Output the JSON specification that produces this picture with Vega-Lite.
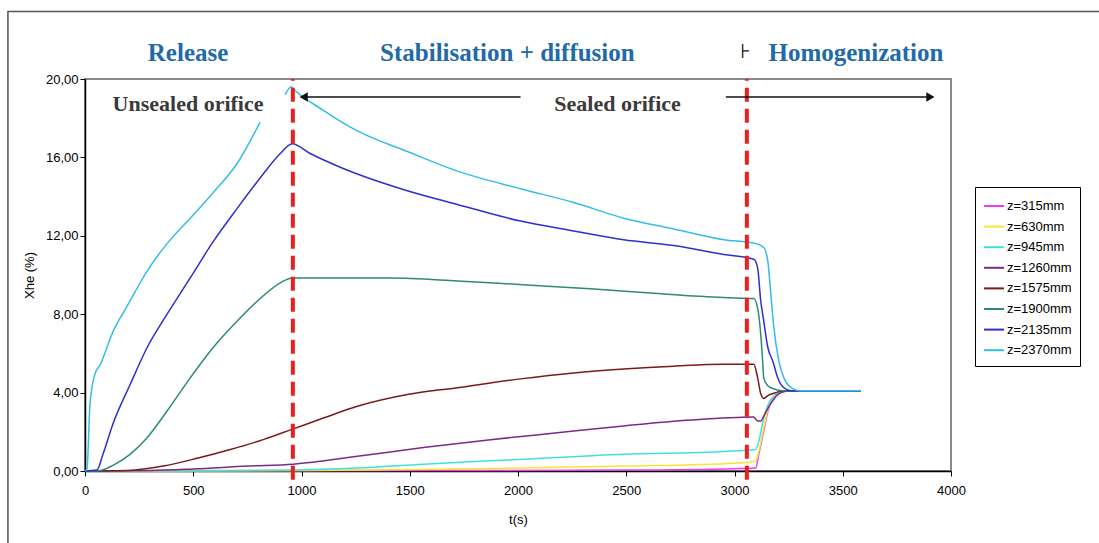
{
  "$schema": "https://vega.github.io/schema/vega-lite/v6.json",
  "width": 866,
  "height": 392,
  "autosize": {"type": "none"},
  "padding": {"left": 85, "top": 79, "right": 148, "bottom": 72},
  "background": "white",
  "config": {
    "view": {"stroke": "#8a8a8a", "strokeWidth": 2},
    "axis": {"labelFont": "Liberation Sans", "labelFontSize": 13, "titleFont": "Liberation Sans", "titleFontSize": 13, "titleFontWeight": "normal", "domainColor": "#000", "tickColor": "#000", "labelColor": "#000", "titleColor": "#000", "grid": false, "tickSize": 5, "domainWidth": 1.5}
  },
  "datasets": {
    "series": [
      {"s":"z=315mm","p":"a","t":0,"v":0},{"s":"z=315mm","p":"a","t":1500,"v":0.02},{"s":"z=315mm","p":"a","t":2500,"v":0.05},{"s":"z=315mm","p":"a","t":3000,"v":0.12},{"s":"z=315mm","p":"a","t":3098,"v":0.15},{"s":"z=315mm","p":"a","t":3112,"v":0.85},{"s":"z=315mm","p":"a","t":3135,"v":2.05},{"s":"z=315mm","p":"a","t":3158,"v":3.2},{"s":"z=315mm","p":"a","t":3190,"v":3.9},{"s":"z=315mm","p":"a","t":3228,"v":4.05},{"s":"z=315mm","p":"a","t":3260,"v":4.1},{"s":"z=315mm","p":"a","t":3584,"v":4.1},

      {"s":"z=630mm","p":"a","t":0,"v":0},{"s":"z=630mm","p":"a","t":1000,"v":0.02},{"s":"z=630mm","p":"a","t":1500,"v":0.08},{"s":"z=630mm","p":"a","t":2000,"v":0.15},{"s":"z=630mm","p":"a","t":2500,"v":0.25},{"s":"z=630mm","p":"a","t":3000,"v":0.4},{"s":"z=630mm","p":"a","t":3098,"v":0.5},{"s":"z=630mm","p":"a","t":3112,"v":1.0},{"s":"z=630mm","p":"a","t":3135,"v":2.2},{"s":"z=630mm","p":"a","t":3158,"v":3.3},{"s":"z=630mm","p":"a","t":3190,"v":3.9},{"s":"z=630mm","p":"a","t":3228,"v":4.05},{"s":"z=630mm","p":"a","t":3260,"v":4.1},{"s":"z=630mm","p":"a","t":3584,"v":4.1},

      {"s":"z=945mm","p":"a","t":0,"v":0},{"s":"z=945mm","p":"a","t":500,"v":0.02},{"s":"z=945mm","p":"a","t":962,"v":0.05},{"s":"z=945mm","p":"a","t":1258,"v":0.15},{"s":"z=945mm","p":"a","t":1563,"v":0.35},{"s":"z=945mm","p":"a","t":2025,"v":0.6},{"s":"z=945mm","p":"a","t":2488,"v":0.85},{"s":"z=945mm","p":"a","t":2950,"v":1.0},{"s":"z=945mm","p":"a","t":3098,"v":1.1},{"s":"z=945mm","p":"a","t":3112,"v":1.5},{"s":"z=945mm","p":"a","t":3135,"v":2.7},{"s":"z=945mm","p":"a","t":3158,"v":3.45},{"s":"z=945mm","p":"a","t":3190,"v":3.9},{"s":"z=945mm","p":"a","t":3228,"v":4.05},{"s":"z=945mm","p":"a","t":3260,"v":4.1},{"s":"z=945mm","p":"a","t":3584,"v":4.1},

      {"s":"z=1260mm","p":"a","t":0,"v":0},{"s":"z=1260mm","p":"a","t":300,"v":0.02},{"s":"z=1260mm","p":"a","t":500,"v":0.1},{"s":"z=1260mm","p":"a","t":750,"v":0.25},{"s":"z=1260mm","p":"a","t":962,"v":0.35},{"s":"z=1260mm","p":"a","t":1258,"v":0.75},{"s":"z=1260mm","p":"a","t":1563,"v":1.2},{"s":"z=1260mm","p":"a","t":1873,"v":1.6},{"s":"z=1260mm","p":"a","t":2182,"v":1.95},{"s":"z=1260mm","p":"a","t":2488,"v":2.3},{"s":"z=1260mm","p":"a","t":2798,"v":2.6},{"s":"z=1260mm","p":"a","t":3089,"v":2.75},{"s":"z=1260mm","p":"a","t":3107,"v":2.55},{"s":"z=1260mm","p":"a","t":3121,"v":2.55},{"s":"z=1260mm","p":"a","t":3135,"v":2.8},{"s":"z=1260mm","p":"a","t":3168,"v":3.45},{"s":"z=1260mm","p":"a","t":3200,"v":3.9},{"s":"z=1260mm","p":"a","t":3228,"v":4.05},{"s":"z=1260mm","p":"a","t":3260,"v":4.1},{"s":"z=1260mm","p":"a","t":3584,"v":4.1},

      {"s":"z=1575mm","p":"a","t":0,"v":0},{"s":"z=1575mm","p":"a","t":200,"v":0.03},{"s":"z=1575mm","p":"a","t":361,"v":0.25},{"s":"z=1575mm","p":"a","t":518,"v":0.65},{"s":"z=1575mm","p":"a","t":671,"v":1.1},{"s":"z=1575mm","p":"a","t":823,"v":1.6},{"s":"z=1575mm","p":"a","t":962,"v":2.15},{"s":"z=1575mm","p":"a","t":1101,"v":2.7},{"s":"z=1575mm","p":"a","t":1258,"v":3.3},{"s":"z=1575mm","p":"a","t":1489,"v":3.9},{"s":"z=1575mm","p":"a","t":1720,"v":4.25},{"s":"z=1575mm","p":"a","t":2012,"v":4.7},{"s":"z=1575mm","p":"a","t":2257,"v":5.0},{"s":"z=1575mm","p":"a","t":2488,"v":5.2},{"s":"z=1575mm","p":"a","t":2719,"v":5.35},{"s":"z=1575mm","p":"a","t":2950,"v":5.45},{"s":"z=1575mm","p":"a","t":3089,"v":5.45},{"s":"z=1575mm","p":"a","t":3107,"v":4.75},{"s":"z=1575mm","p":"a","t":3121,"v":3.95},{"s":"z=1575mm","p":"a","t":3135,"v":3.7},{"s":"z=1575mm","p":"a","t":3154,"v":3.85},{"s":"z=1575mm","p":"a","t":3177,"v":3.95},{"s":"z=1575mm","p":"a","t":3205,"v":4.05},{"s":"z=1575mm","p":"a","t":3240,"v":4.1},{"s":"z=1575mm","p":"a","t":3584,"v":4.1},

      {"s":"z=1900mm","p":"a","t":0,"v":0},{"s":"z=1900mm","p":"a","t":70,"v":0.03},{"s":"z=1900mm","p":"a","t":131,"v":0.3},{"s":"z=1900mm","p":"a","t":208,"v":0.85},{"s":"z=1900mm","p":"a","t":287,"v":1.7},{"s":"z=1900mm","p":"a","t":379,"v":3.06},{"s":"z=1900mm","p":"a","t":486,"v":4.75},{"s":"z=1900mm","p":"a","t":592,"v":6.3},{"s":"z=1900mm","p":"a","t":703,"v":7.65},{"s":"z=1900mm","p":"a","t":809,"v":8.8},{"s":"z=1900mm","p":"a","t":902,"v":9.6},{"s":"z=1900mm","p":"a","t":957,"v":9.85},{"s":"z=1900mm","p":"a","t":1026,"v":9.85},{"s":"z=1900mm","p":"a","t":1411,"v":9.85},{"s":"z=1900mm","p":"a","t":1720,"v":9.7},{"s":"z=1900mm","p":"a","t":2025,"v":9.5},{"s":"z=1900mm","p":"a","t":2335,"v":9.3},{"s":"z=1900mm","p":"a","t":2645,"v":9.05},{"s":"z=1900mm","p":"a","t":2950,"v":8.85},{"s":"z=1900mm","p":"a","t":3089,"v":8.8},{"s":"z=1900mm","p":"a","t":3107,"v":8.3},{"s":"z=1900mm","p":"a","t":3121,"v":7.0},{"s":"z=1900mm","p":"a","t":3130,"v":5.6},{"s":"z=1900mm","p":"a","t":3135,"v":4.75},{"s":"z=1900mm","p":"a","t":3154,"v":4.35},{"s":"z=1900mm","p":"a","t":3180,"v":4.2},{"s":"z=1900mm","p":"a","t":3220,"v":4.1},{"s":"z=1900mm","p":"a","t":3584,"v":4.1},

      {"s":"z=2135mm","p":"a","t":0,"v":0},{"s":"z=2135mm","p":"a","t":55,"v":0.05},{"s":"z=2135mm","p":"a","t":83,"v":0.85},{"s":"z=2135mm","p":"a","t":129,"v":2.4},{"s":"z=2135mm","p":"a","t":208,"v":4.4},{"s":"z=2135mm","p":"a","t":287,"v":6.3},{"s":"z=2135mm","p":"a","t":379,"v":8.0},{"s":"z=2135mm","p":"a","t":486,"v":9.85},{"s":"z=2135mm","p":"a","t":592,"v":11.7},{"s":"z=2135mm","p":"a","t":703,"v":13.4},{"s":"z=2135mm","p":"a","t":809,"v":14.95},{"s":"z=2135mm","p":"a","t":902,"v":16.2},{"s":"z=2135mm","p":"a","t":957,"v":16.7},{"s":"z=2135mm","p":"a","t":1040,"v":16.2},{"s":"z=2135mm","p":"a","t":1179,"v":15.5},{"s":"z=2135mm","p":"a","t":1489,"v":14.3},{"s":"z=2135mm","p":"a","t":1720,"v":13.6},{"s":"z=2135mm","p":"a","t":2012,"v":12.75},{"s":"z=2135mm","p":"a","t":2257,"v":12.25},{"s":"z=2135mm","p":"a","t":2488,"v":11.8},{"s":"z=2135mm","p":"a","t":2719,"v":11.5},{"s":"z=2135mm","p":"a","t":2950,"v":11.05},{"s":"z=2135mm","p":"a","t":3089,"v":10.8},{"s":"z=2135mm","p":"a","t":3107,"v":10.35},{"s":"z=2135mm","p":"a","t":3121,"v":8.7},{"s":"z=2135mm","p":"a","t":3135,"v":7.65},{"s":"z=2135mm","p":"a","t":3154,"v":6.3},{"s":"z=2135mm","p":"a","t":3177,"v":5.6},{"s":"z=2135mm","p":"a","t":3200,"v":4.75},{"s":"z=2135mm","p":"a","t":3228,"v":4.25},{"s":"z=2135mm","p":"a","t":3260,"v":4.1},{"s":"z=2135mm","p":"a","t":3584,"v":4.1},

      {"s":"z=2370mm","p":"a","t":0,"v":0},{"s":"z=2370mm","p":"a","t":9,"v":0.1},{"s":"z=2370mm","p":"a","t":23,"v":3.4},{"s":"z=2370mm","p":"a","t":46,"v":4.95},{"s":"z=2370mm","p":"a","t":69,"v":5.4},{"s":"z=2370mm","p":"a","t":129,"v":7.1},{"s":"z=2370mm","p":"a","t":194,"v":8.4},{"s":"z=2370mm","p":"a","t":287,"v":10.2},{"s":"z=2370mm","p":"a","t":379,"v":11.6},{"s":"z=2370mm","p":"a","t":486,"v":12.9},{"s":"z=2370mm","p":"a","t":592,"v":14.2},{"s":"z=2370mm","p":"a","t":703,"v":15.7},{"s":"z=2370mm","p":"a","t":809,"v":17.8},
      {"s":"z=2370mm","p":"b","t":925,"v":19.2},{"s":"z=2370mm","p":"b","t":953,"v":19.6},{"s":"z=2370mm","p":"b","t":962,"v":19.5},{"s":"z=2370mm","p":"b","t":1101,"v":18.4},{"s":"z=2370mm","p":"b","t":1258,"v":17.35},{"s":"z=2370mm","p":"b","t":1489,"v":16.3},{"s":"z=2370mm","p":"b","t":1720,"v":15.3},{"s":"z=2370mm","p":"b","t":2012,"v":14.4},{"s":"z=2370mm","p":"b","t":2257,"v":13.7},{"s":"z=2370mm","p":"b","t":2488,"v":12.9},{"s":"z=2370mm","p":"b","t":2719,"v":12.35},{"s":"z=2370mm","p":"b","t":2950,"v":11.8},{"s":"z=2370mm","p":"b","t":3098,"v":11.6},{"s":"z=2370mm","p":"b","t":3135,"v":11.4},{"s":"z=2370mm","p":"b","t":3154,"v":10.7},{"s":"z=2370mm","p":"b","t":3168,"v":9.0},{"s":"z=2370mm","p":"b","t":3182,"v":7.3},{"s":"z=2370mm","p":"b","t":3205,"v":5.6},{"s":"z=2370mm","p":"b","t":3228,"v":4.75},{"s":"z=2370mm","p":"b","t":3269,"v":4.2},{"s":"z=2370mm","p":"b","t":3300,"v":4.1},{"s":"z=2370mm","p":"b","t":3584,"v":4.1}
    ]
  },
  "layer": [
    {
      "data": {"values": [{"t": -356, "t2": 4800, "v": 23.45, "v2": -6}]},
      "mark": {"type": "rect", "fill": null, "stroke": "#555555", "strokeWidth": 1.5},
      "encoding": {
        "x": {"field": "t", "type": "quantitative", "title": "t(s)"},
        "x2": {"field": "t2"},
        "y": {"field": "v", "type": "quantitative", "title": "Xhe (%)"},
        "y2": {"field": "v2"}
      }
    },
    {
      "data": {"name": "series"},
      "mark": {"type": "line", "strokeWidth": 1.5, "interpolate": "monotone"},
      "encoding": {
        "x": {"field": "t", "type": "quantitative", "title": "t(s)",
              "scale": {"domain": [0, 4000], "nice": false},
              "axis": {"values": [0,500,1000,1500,2000,2500,3000,3500,4000], "format": "d", "labelPadding": 8, "titlePadding": 16, "labelFlush": false}},
        "y": {"field": "v", "type": "quantitative", "title": "Xhe (%)",
              "scale": {"domain": [0, 20], "nice": false},
              "axis": {"values": [0,4,8,12,16,20], "labelExpr": "replace(format(datum.value, '.2f'), '.', ',')", "labelPadding": 2, "titlePadding": 9}},
        "color": {"field": "s", "type": "nominal",
                  "scale": {"domain": ["z=315mm","z=630mm","z=945mm","z=1260mm","z=1575mm","z=1900mm","z=2135mm","z=2370mm"],
                            "range": ["#f03cf0","#f5e632","#3fe0e0","#7a2a8a","#7a1a1a","#2e8a78","#2f2fd0","#34bde8"]},
                  "legend": {"title": null, "orient": "none", "legendX": 890, "legendY": 108, "strokeColor": "#000000", "fillColor": "#ffffff", "padding": 8, "symbolType": "stroke", "symbolSize": 400, "symbolStrokeWidth": 2, "labelFont": "Liberation Sans", "labelFontSize": 13, "labelColor": "#000", "rowPadding": 2.6, "labelOffset": 2}},
        "detail": {"field": "p", "type": "nominal"},
        "order": {"field": "t", "type": "quantitative"}
      }
    },
    {
      "data": {"values": [{"t": 960, "v": -0.45, "v2": 20}, {"t": 3057, "v": -0.45, "v2": 20}]},
      "mark": {"type": "rule", "color": "#e8201e", "strokeWidth": 4, "strokeDash": [14, 7]},
      "encoding": {
        "x": {"field": "t", "type": "quantitative", "title": "t(s)"},
        "y": {"field": "v", "type": "quantitative", "title": "Xhe (%)"},
        "y2": {"field": "v2"}
      }
    },
    {
      "data": {"values": [{"t": 1008, "t2": 2012, "v": 19.08}, {"t": 2960, "t2": 3905, "v": 19.08}]},
      "mark": {"type": "rule", "color": "#111111", "strokeWidth": 1.5},
      "encoding": {
        "x": {"field": "t", "type": "quantitative", "title": "t(s)"},
        "x2": {"field": "t2"},
        "y": {"field": "v", "type": "quantitative", "title": "Xhe (%)"}
      }
    },
    {
      "data": {"values": [{"t": 1010, "v": 19.08, "shape": "triangle-left"}, {"t": 3905, "v": 19.08, "shape": "triangle-right"}]},
      "mark": {"type": "point", "filled": true, "color": "#111111", "size": 90, "opacity": 1},
      "encoding": {
        "x": {"field": "t", "type": "quantitative", "title": "t(s)"},
        "y": {"field": "v", "type": "quantitative", "title": "Xhe (%)"},
        "shape": {"field": "shape", "type": "nominal", "scale": null}
      }
    },
    {
      "data": {"values": [{"t": 476, "v": 21.33, "label": "Release"}, {"t": 1951, "v": 21.33, "label": "Stabilisation + diffusion"}, {"t": 3561, "v": 21.33, "label": "Homogenization"}]},
      "mark": {"type": "text", "font": "Liberation Serif", "fontWeight": "bold", "fontSize": 25, "color": "#1f6aa8", "align": "center", "baseline": "middle"},
      "encoding": {
        "x": {"field": "t", "type": "quantitative", "title": "t(s)"},
        "y": {"field": "v", "type": "quantitative", "title": "Xhe (%)"},
        "text": {"field": "label"}
      }
    },
    {
      "data": {"values": [{"t": 3051, "v": 21.4, "label": "⊦"}]},
      "mark": {"type": "text", "font": "DejaVu Sans", "fontSize": 20, "color": "#111111", "align": "center", "baseline": "middle"},
      "encoding": {
        "x": {"field": "t", "type": "quantitative", "title": "t(s)"},
        "y": {"field": "v", "type": "quantitative", "title": "Xhe (%)"},
        "text": {"field": "label"}
      }
    },
    {
      "data": {"values": [{"t": 476, "v": 18.72, "label": "Unsealed orifice"}, {"t": 2460, "v": 18.72, "label": "Sealed orifice"}]},
      "mark": {"type": "text", "font": "Liberation Serif", "fontWeight": "bold", "fontSize": 22, "color": "#3a3a3a", "align": "center", "baseline": "middle"},
      "encoding": {
        "x": {"field": "t", "type": "quantitative", "title": "t(s)"},
        "y": {"field": "v", "type": "quantitative", "title": "Xhe (%)"},
        "text": {"field": "label"}
      }
    }
  ]
}
